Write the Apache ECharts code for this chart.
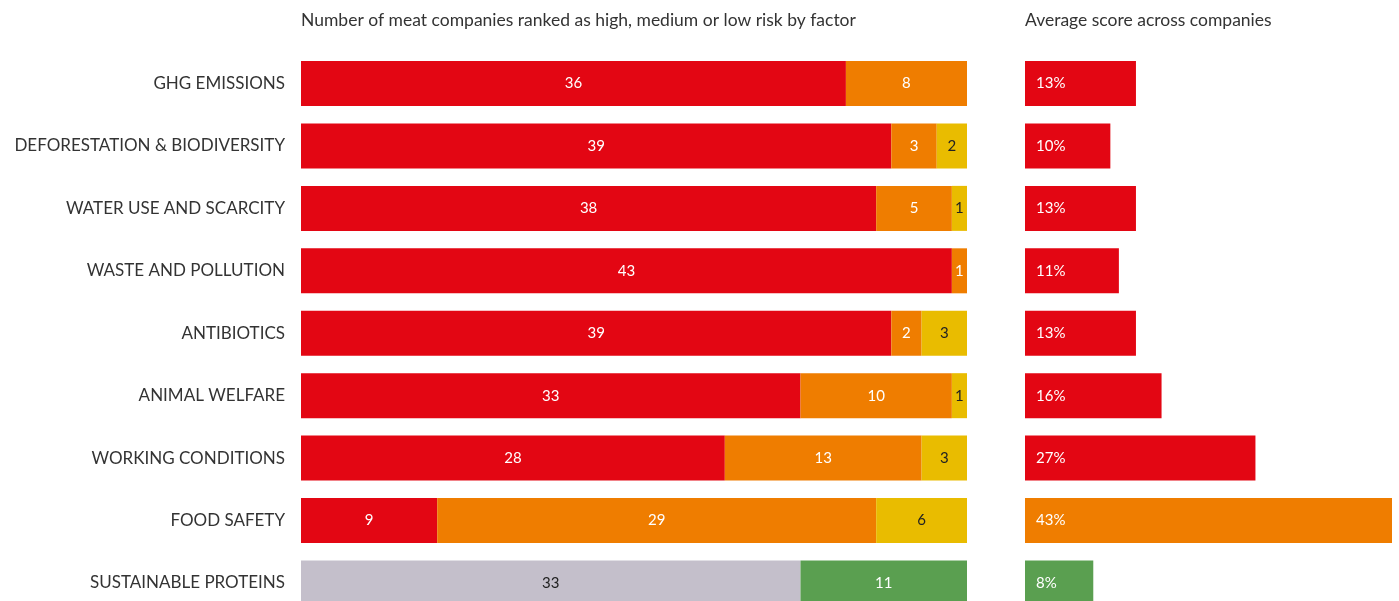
<!DOCTYPE html>
<html>
<head>
<meta charset="utf-8">
<script src="https://cdn.jsdelivr.net/npm/echarts@6/dist/echarts.min.js"></script>
<style>
  html, body { margin: 0; padding: 0; background: #fff; }
  #chart { width: 1399px; height: 601px; }
</style>
</head>
<body>
<div id="chart"></div>
<script>
const categories = ['GHG EMISSIONS', 'DEFORESTATION & BIODIVERSITY', 'WATER USE AND SCARCITY',
  'WASTE AND POLLUTION', 'ANTIBIOTICS', 'ANIMAL WELFARE', 'WORKING CONDITIONS',
  'FOOD SAFETY', 'SUSTAINABLE PROTEINS'];
const highRisk = [36, 39, 38, 43, 39, 33, 28, 9, null];
const mediumRisk = [8, 3, 5, 1, 2, 10, 13, 29, null];
const lowRisk = [null, 2, 1, null, 3, 1, 3, 6, null];
const noProteins = [null, null, null, null, null, null, null, null, 33];
const withProteins = [null, null, null, null, null, null, null, null, 11];
const avgScore = [13, 10, 13, 11, 13, 16, 27, 43, 8];
const scoreColors = ['red', 'red', 'red', 'red', 'red', 'red', 'red', 'orange', 'green'];

const RED = '#e30613', ORANGE = '#ef7d00', YELLOW = '#e9bc00', GREY = '#c4bfcb', GREEN = '#5a9f50';
const colorMap = { red: RED, orange: ORANGE, green: GREEN };
const FONT = 'Lato';

const chart = echarts.init(document.getElementById('chart'));

// one stacked bar series on the left grid
function stackSeries(name, data, color, labelColor) {
  return {
    name: name,
    type: 'bar',
    stack: 'risk',
    xAxisIndex: 0,
    yAxisIndex: 0,
    barWidth: 45,
    data: data,
    itemStyle: { color: color },
    label: {
      show: true,
      position: 'inside',
      color: labelColor,
      fontFamily: FONT,
      fontSize: 15
    },
    silent: true
  };
}

const option = {
  animation: false,
  title: [
    {
      text: 'Number of meat companies ranked as high, medium or low risk by factor',
      left: 301, top: 11, padding: 0,
      textStyle: { fontFamily: FONT, fontSize: 17.5, fontWeight: 'normal', color: '#333' }
    },
    {
      text: 'Average score across companies',
      left: 1025, top: 11, padding: 0,
      textStyle: { fontFamily: FONT, fontSize: 17.5, fontWeight: 'normal', color: '#333' }
    }
  ],
  grid: [
    { left: 301, top: 52.3, width: 666, height: 561.9, outerBoundsMode: 'none', containLabel: false },
    { left: 1025, top: 52.3, width: 367, height: 561.9, outerBoundsMode: 'none', containLabel: false }
  ],
  xAxis: [
    { type: 'value', gridIndex: 0, min: 0, max: 44, show: false },
    { type: 'value', gridIndex: 1, min: 0, max: 43, show: false }
  ],
  yAxis: [
    {
      type: 'category', gridIndex: 0, data: categories, inverse: true,
      axisLine: { show: false }, axisTick: { show: false },
      axisLabel: { margin: 16, fontFamily: FONT, fontSize: 17, color: '#333' }
    },
    {
      type: 'category', gridIndex: 1, data: categories, inverse: true,
      axisLine: { show: false }, axisTick: { show: false }, axisLabel: { show: false }
    }
  ],
  series: [
    stackSeries('High', highRisk, RED, '#fff'),
    stackSeries('Medium', mediumRisk, ORANGE, '#fff'),
    stackSeries('Low', lowRisk, YELLOW, '#222'),
    stackSeries('No', noProteins, GREY, '#222'),
    stackSeries('Yes', withProteins, GREEN, '#fff'),
    {
      name: 'Score',
      type: 'bar',
      xAxisIndex: 1,
      yAxisIndex: 1,
      barWidth: 45,
      data: avgScore.map((v, i) => ({ value: v, itemStyle: { color: colorMap[scoreColors[i]] } })),
      label: {
        show: true,
        position: 'insideLeft',
        distance: 11,
        formatter: '{c}%',
        color: '#fff',
        fontFamily: FONT,
        fontSize: 15
      },
      silent: true
    }
  ]
};

chart.setOption(option);
</script>
</body>
</html>
